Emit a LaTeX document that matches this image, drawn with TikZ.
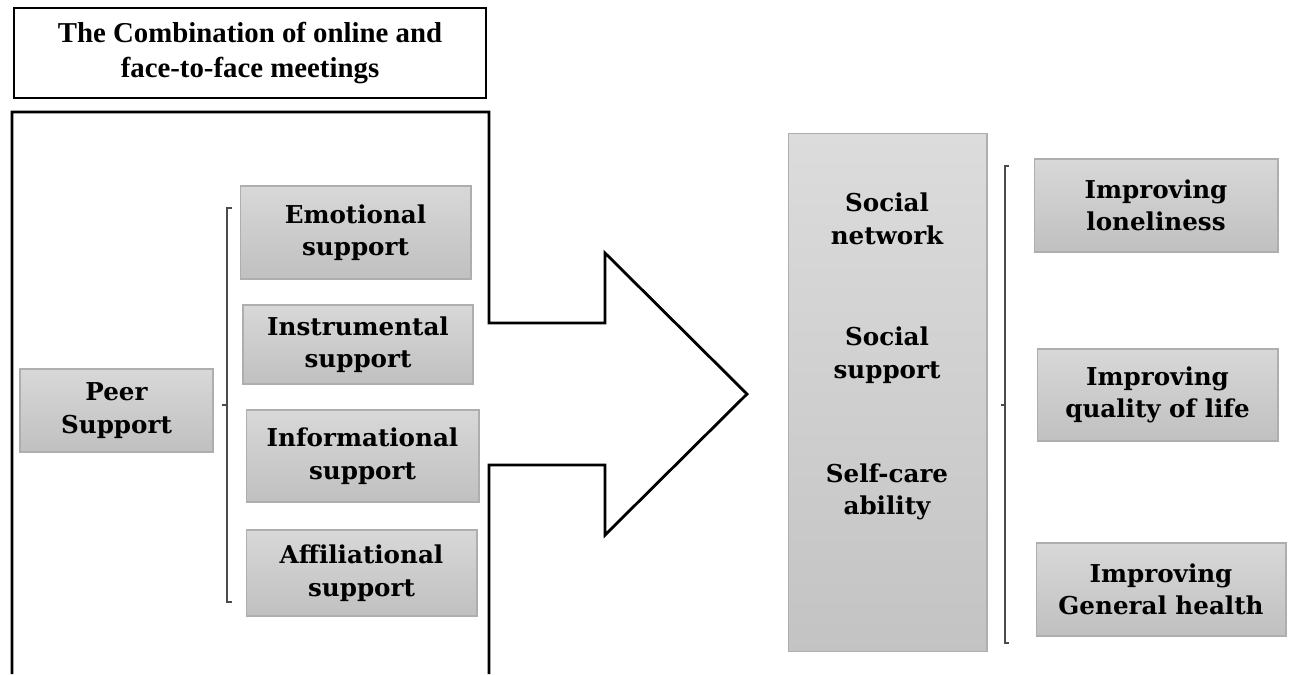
\documentclass[tikz,border=0pt]{standalone}
\usepackage{fontspec}
\setmainfont{DejaVu Serif}
\newfontfamily\titlefont{Liberation Serif}
\usepackage{tikz}
\definecolor{boxtop}{HTML}{D8D8D8}
\definecolor{boxbot}{HTML}{C0C0C0}
\definecolor{boxline}{HTML}{AEAEAE}
\tikzset{
	greybox/.style={draw=boxline, line width=0.6pt, top color=boxtop, bottom color=boxbot, align=center, inner sep=0pt, font=\fontsize{14}{18.5}\selectfont\bfseries},
	brace/.style={draw=black!70, line width=0.7pt},
}

\begin{document}
\begin{tikzpicture}[x=0.02cm, y=-0.02cm]
		%%%%% START %%%%%
		\useasboundingbox (0, 0) rectangle (1290, 674);
		
		\node[draw, line width=1.6pt, minimum width=9.44cm, minimum height=1.8cm, align=center, font=\titlefont\fontsize{16.4}{19.5}\selectfont\bfseries] (title) at (250, 53) {The Combination of online and\\face-to-face meetings};
		
		% frame with the arrow
		\draw[line width=1.6pt, line join=miter] (12, 674) -- (12, 112) -- (489, 112) -- (489, 323) -- (605, 323) -- (605, 253) -- (747, 394) -- (605, 535) -- (605, 465) -- (489, 465) -- (489, 674);
		
		\node[greybox, minimum width=3.86cm, minimum height=1.66cm] (peer) at (116.5, 410.5) {Peer\\Support};
		
		\node[greybox, minimum width=4.62cm, minimum height=1.86cm] (emo) at (355.5, 232.5) {Emotional\\support};
		\node[greybox, minimum width=4.60cm, minimum height=1.58cm] (instr) at (358, 344.5) {Instrumental\\support};
		\node[greybox, minimum width=4.66cm, minimum height=1.84cm] (info) at (362.5, 456) {Informational\\support};
		\node[greybox, minimum width=4.62cm, minimum height=1.72cm] (affil) at (361.5, 573) {Affiliational\\support};
		
		\draw[brace] (232, 208) -- (227, 208) -- (227, 602) -- (232, 602);
		\draw[brace] (222, 405) -- (227, 405);
		
		\node[draw=boxline, line width=0.6pt, top color=boxtop!90!white, bottom color=boxbot!95!white, minimum width=3.98cm, minimum height=10.38cm] (mid) at (887.5, 392.5) {};
		\node[align=center, font=\fontsize{14}{18.5}\selectfont\bfseries] (net) at (887, 219) {Social\\network};
		\node[align=center, font=\fontsize{14}{18.5}\selectfont\bfseries] (sup) at (887, 355) {Social\\support};
		\node[align=center, font=\fontsize{14}{18.5}\selectfont\bfseries] (self) at (887, 492) {Self-care\\ability};
		
		\draw[brace] (1009, 166) -- (1005, 166) -- (1005, 643) -- (1009, 643);
		\draw[brace] (1001, 405) -- (1005, 405);
		
		\node[greybox, minimum width=4.88cm, minimum height=1.86cm] (lonely) at (1156, 205.5) {Improving\\loneliness};
		\node[greybox, minimum width=4.82cm, minimum height=1.84cm] (qol) at (1157.5, 395) {Improving\\quality of life};
		\node[greybox, minimum width=5.00cm, minimum height=1.86cm] (health) at (1161, 589.5) {Improving\\General health};
		
		%%%%% END %%%%%
\end{tikzpicture}
\end{document}
